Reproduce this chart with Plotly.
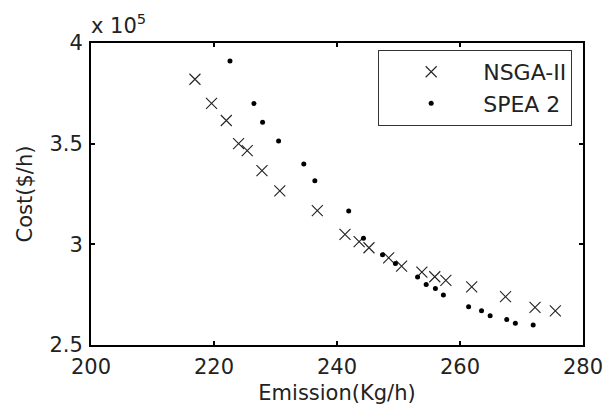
import plotly.graph_objects as go

# NSGA-II front (emission in Kg/h, cost in $/h)
nsga_emission = [216.9, 219.6, 222.0, 224.0, 225.4, 227.8, 230.7, 236.8, 241.3, 243.6,
                 245.2, 248.4, 250.5, 253.8, 255.9, 257.7, 261.9, 267.4, 272.2, 275.5]
nsga_cost = [382000, 370000, 361500, 350000, 346500, 336600, 326500, 316700, 305000, 301300,
             298300, 293300, 289200, 286200, 283900, 282100, 278900, 274000, 268700, 267000]

# SPEA 2 front
spea_emission = [222.6, 226.5, 227.9, 230.5, 234.6, 236.4, 241.9, 244.3, 247.4, 249.5,
                 253.1, 254.5, 256.0, 257.3, 261.4, 263.5, 264.9, 267.6, 269.0, 271.9]
spea_cost = [391100, 369900, 360600, 351300, 339900, 331600, 316500, 303000, 294800, 290500,
             283800, 280000, 278100, 274800, 269000, 267000, 264500, 262700, 260800, 259900]

y_ticks = [250000, 300000, 350000, 400000]
y_tick_labels = ["2.5", "3", "3.5", "4"]
x_ticks = [200, 220, 240, 260, 280]

FONT = "DejaVu Sans, Arial, sans-serif"
FS = 21

fig = go.Figure()

fig.add_trace(go.Scatter(
    name="NSGA-II",
    mode="markers",
    x=nsga_emission,
    y=nsga_cost,
    legendgroup="a",
    marker=dict(symbol="x-thin", size=11, line=dict(width=1.1, color="#222222"), color="#222222"),
))

fig.add_trace(go.Scatter(
    name="SPEA 2",
    mode="markers",
    x=spea_emission,
    y=spea_cost,
    legendgroup="b",
    marker=dict(symbol="circle", size=5, color="black"),
))

axis_common = dict(
    showline=True, linecolor="black", linewidth=2, mirror="ticks",
    ticks="inside", ticklen=4, tickwidth=2, tickcolor="black",
    showgrid=False, zeroline=False,
    tickfont=dict(family=FONT, size=FS, color="#222222"),
)

# the page body keeps its default 8px margin, so the figure is 8px smaller
fig.update_layout(
    width=606,
    height=410,
    margin=dict(l=83, r=31, t=35, b=73),
    paper_bgcolor="white",
    plot_bgcolor="white",
    font=dict(family=FONT, size=FS, color="#222222"),
    xaxis=dict(
        range=[200, 280], tickvals=x_ticks,
        title=dict(text="Emission(Kg/h)", font=dict(family=FONT, size=FS), standoff=7),
        ticklabelstandoff=2,
        **axis_common,
    ),
    yaxis=dict(
        range=[250000, 400000], tickvals=y_ticks, ticktext=y_tick_labels,
        title=dict(text="Cost($/h)", font=dict(family=FONT, size=FS), standoff=11),
        ticklabelstandoff=2,
        **axis_common,
    ),
    showlegend=True,
    legend=dict(
        x=0.978, y=0.977, xanchor="right", yanchor="top",
        bgcolor="white", bordercolor="#333333", borderwidth=1,
        tracegroupgap=0, traceorder="grouped", itemwidth=94,
        font=dict(family=FONT, size=22, color="#222222"),
    ),
    annotations=[dict(
        text="x 10<sup>5</sup>", xref="paper", yref="paper", x=-0.004, y=1.0,
        xanchor="left", yanchor="bottom", showarrow=False, yshift=3,
        font=dict(family=FONT, size=FS, color="#222222"),
    )],
)

fig.write_html("out.html")
